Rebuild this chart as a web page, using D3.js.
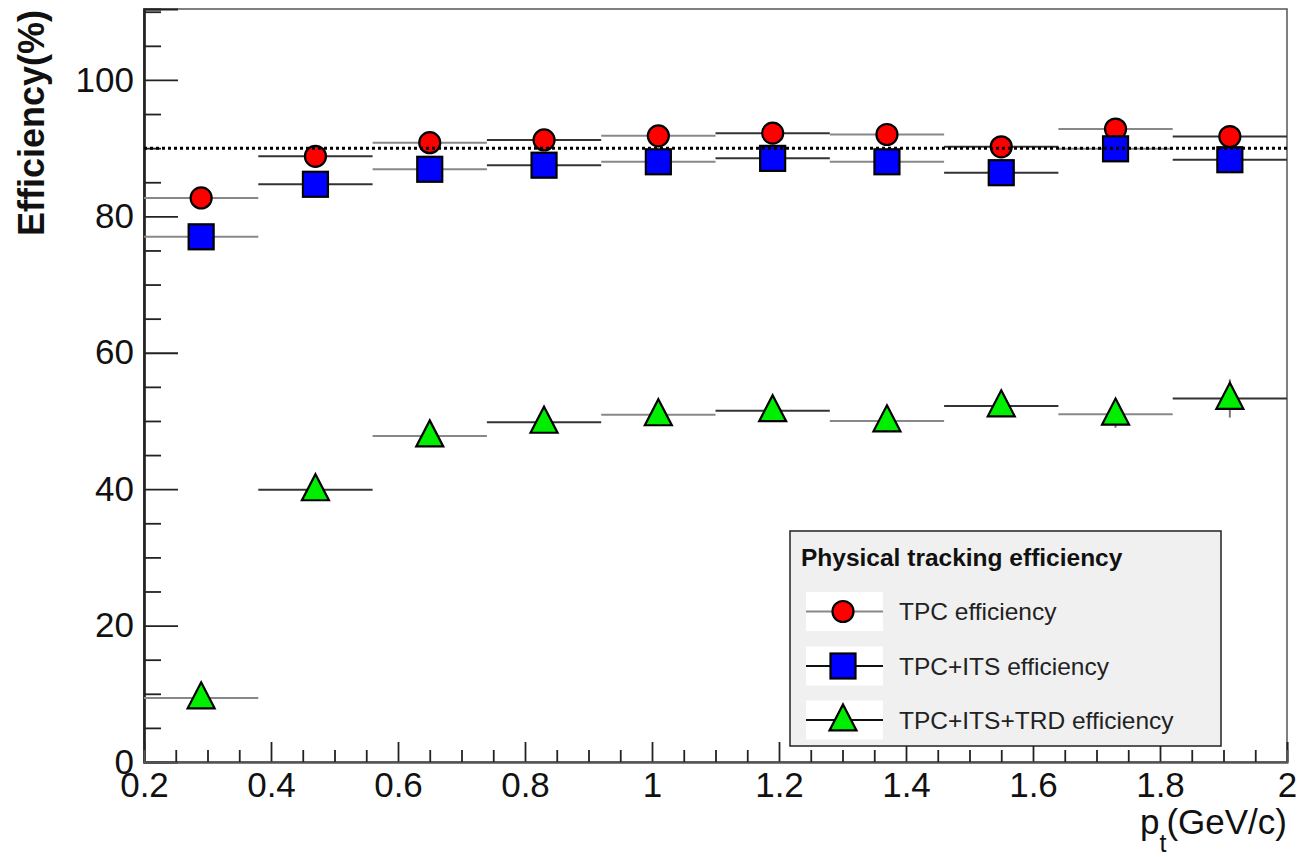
<!DOCTYPE html>
<html><head><meta charset="utf-8">
<script src="https://cdn.jsdelivr.net/npm/d3@7"></script>
<style>
html,body{margin:0;padding:0;background:#fff;}
svg{display:block;font-family:"Liberation Sans",Arial,Helvetica,sans-serif;}
</style></head>
<body>
<svg id="chart" width="1301" height="857"></svg>
<script>
// ---- data ----
const binCenters = [0.29, 0.47, 0.65, 0.83, 1.01, 1.19, 1.37, 1.55, 1.73, 1.91];
const binHalfWidth = 0.09;
const tpcEff    = [82.7, 88.8, 90.8, 91.2, 91.8, 92.2, 92.0, 90.2, 92.8, 91.7];
const tpcItsEff = [77.0, 84.7, 86.9, 87.5, 88.0, 88.5, 88.0, 86.4, 89.9, 88.3];
const trdEff    = [9.4, 39.9, 47.8, 49.8, 50.9, 51.5, 50.0, 52.2, 51.0, 53.3];
const trdErr    = [0.6, 0.9, 1.0, 1.1, 1.2, 1.3, 1.4, 1.6, 2.0, 2.8];
const referenceLevel = 90;
const xMajorTicks = [0.2, 0.4, 0.6, 0.8, 1.0, 1.2, 1.4, 1.6, 1.8, 2.0];
const xMinorTicks = [0.25,0.3,0.35,0.45,0.5,0.55,0.65,0.7,0.75,0.85,0.9,0.95,1.05,1.1,1.15,1.25,1.3,1.35,1.45,1.5,1.55,1.65,1.7,1.75,1.85,1.9,1.95];
const yMajorTicks = [0, 20, 40, 60, 80, 100];
const yMinorTicks = [5,10,15,25,30,35,45,50,55,65,70,75,85,90,95,105,110];
const seriesNames = ["TPC efficiency", "TPC+ITS efficiency", "TPC+ITS+TRD efficiency"];
const legendTitle = "Physical tracking efficiency";
const yTitle = "Efficiency(%)";

// ---- setup ----
const svg = d3.select("#chart");
const L = 144, R = 1287, T = 9, B = 762;
const x = d3.scaleLinear().domain([0.2, 2.0]).range([L, R]);
const y = d3.scaleLinear().domain([0, 110.4]).range([B, T]);

// frame
svg.append("rect").attr("x", L).attr("y", T).attr("width", R - L).attr("height", B - T)
  .attr("fill", "none").attr("stroke", "#555").attr("stroke-width", 1.5);

// y axis
const yMajor = svg.append("g").attr("transform", `translate(${L},0)`)
  .call(d3.axisLeft(y).tickValues(yMajorTicks).tickSize(-34).tickPadding(10).tickFormat(d3.format("d")));
const yMinor = svg.append("g").attr("transform", `translate(${L},0)`)
  .call(d3.axisLeft(y).tickValues(yMinorTicks).tickSize(-17).tickFormat(""));
[yMajor, yMinor].forEach(g => {
  g.select(".domain").attr("stroke", "#222").attr("stroke-width", 2.2);
  g.selectAll(".tick line").attr("stroke", "#222").attr("stroke-width", 1.8);
});
yMajor.selectAll("text").attr("font-size", 35).attr("fill", "#111").attr("font-family", "Liberation Sans, Arial, sans-serif");

// x axis
const xMajor = svg.append("g").attr("transform", `translate(0,${B})`)
  .call(d3.axisBottom(x).tickValues(xMajorTicks).tickSize(-20).tickPadding(10)
    .tickFormat(d => d3.format("~g")(d)));
const xMinor = svg.append("g").attr("transform", `translate(0,${B})`)
  .call(d3.axisBottom(x).tickValues(xMinorTicks).tickSize(-12).tickFormat(""));
[xMajor, xMinor].forEach(g => {
  g.select(".domain").attr("stroke", "#555").attr("stroke-width", 1.8);
  g.selectAll(".tick line").attr("stroke", "#222").attr("stroke-width", 1.8);
});
xMajor.selectAll("text").attr("font-size", 35).attr("fill", "#111").attr("font-family", "Liberation Sans, Arial, sans-serif");

// axis titles
svg.append("text").attr("transform", `translate(44,${T + 1}) rotate(-90)`)
  .attr("text-anchor", "end").attr("font-size", 36).attr("font-weight", "bold").attr("fill", "#111")
  .text(yTitle);
const xt = svg.append("text").attr("x", R).attr("y", 834).attr("text-anchor", "end")
  .attr("font-size", 35).attr("fill", "#111");
xt.append("tspan").text("p");
xt.append("tspan").attr("font-size", 25).attr("dy", 18).text("t");
xt.append("tspan").attr("dy", -18).text("(GeV/c)");

// error bars
const series = [
  {vals: tpcEff, err: null, shape: "circle", fill: "#ff0000"},
  {vals: tpcItsEff, err: null, shape: "square", fill: "#0000ff"},
  {vals: trdEff, err: trdErr, shape: "triangle", fill: "#00ee00"}
];
const barG = svg.append("g");
series.forEach(s => {
  barG.selectAll(null).data(binCenters).enter().append("line")
    .attr("x1", d => x(d - binHalfWidth)).attr("x2", d => x(d + binHalfWidth))
    .attr("y1", (d, i) => y(s.vals[i])).attr("y2", (d, i) => y(s.vals[i]))
    .attr("stroke", (d, i) => i % 2 ? "#333" : "#888").attr("stroke-width", 2);
  if (s.err) {
    barG.selectAll(null).data(binCenters).enter().append("line")
      .attr("x1", d => x(d)).attr("x2", d => x(d))
      .attr("y1", (d, i) => y(s.vals[i] - s.err[i])).attr("y2", (d, i) => y(s.vals[i] + s.err[i]))
      .attr("stroke", "#777").attr("stroke-width", 2);
  }
});

function drawMarker(g, shape, cx, cy, fill) {
  if (shape === "circle") {
    g.append("circle").attr("cx", cx).attr("cy", cy).attr("r", 10.5)
      .attr("fill", fill).attr("stroke", "#000").attr("stroke-width", 2.2);
  } else if (shape === "square") {
    g.append("rect").attr("x", cx - 12.5).attr("y", cy - 12.5).attr("width", 25).attr("height", 25)
      .attr("fill", fill).attr("stroke", "#000").attr("stroke-width", 2.2);
  } else {
    const h = 26, w = 27;
    g.append("path").attr("d", `M${cx},${cy - h * 0.6}L${cx + w / 2},${cy + h * 0.4}L${cx - w / 2},${cy + h * 0.4}Z`)
      .attr("fill", fill).attr("stroke", "#000").attr("stroke-width", 2.2).attr("stroke-linejoin", "miter");
  }
}
const markG = svg.append("g");
series.forEach(s => {
  binCenters.forEach((c, i) => drawMarker(markG, s.shape, x(c), y(s.vals[i]), s.fill));
});

// reference dotted line
svg.append("line").attr("x1", L).attr("x2", R).attr("y1", y(referenceLevel)).attr("y2", y(referenceLevel))
  .attr("stroke", "#000").attr("stroke-width", 3).attr("stroke-dasharray", "3,3");

// legend
const lg = svg.append("g");
lg.append("rect").attr("x", 790).attr("y", 531).attr("width", 431).attr("height", 215)
  .attr("fill", "#f0f0f0").attr("stroke", "#222").attr("stroke-width", 1.5);
lg.append("text").attr("x", 801).attr("y", 566).attr("font-size", 24.5).attr("font-weight", "bold")
  .attr("fill", "#111").text(legendTitle);
const rowY = [611.5, 666, 720];
series.forEach((s, i) => {
  lg.append("rect").attr("x", 806).attr("y", rowY[i] - 19.5).attr("width", 77).attr("height", 39).attr("fill", "#fff");
  lg.append("line").attr("x1", 806).attr("x2", 883).attr("y1", rowY[i]).attr("y2", rowY[i])
    .attr("stroke", i === 0 ? "#888" : "#111").attr("stroke-width", 2);
  drawMarker(lg, s.shape, 843, rowY[i], s.fill);
  lg.append("text").attr("x", 899).attr("y", rowY[i] + 8.5).attr("font-size", 24.5).attr("fill", "#222")
    .text(seriesNames[i]);
});
</script>
</body></html>
